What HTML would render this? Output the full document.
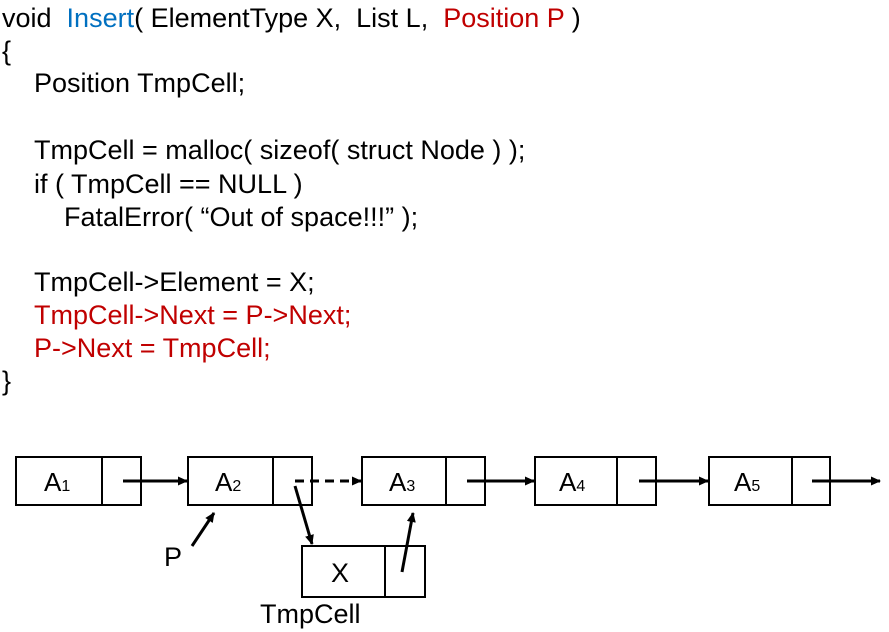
<!DOCTYPE html>
<html><head><style>
body{margin:0;width:889px;height:632px;background:#fff;position:relative;overflow:hidden;font-family:"Liberation Sans",Arial,sans-serif;}
.l{position:absolute;font-size:27px;line-height:26px;white-space:pre;color:#000;}
.r{color:#c00000}.b{color:#0070c0}
svg{position:absolute;left:0;top:0}
</style></head><body>
<div class="l" style="left:2px;top:5px">void  <span class="b">Insert</span>( ElementType X,  List L,  <span class="r">Position P</span> )</div>
<div class="l" style="left:2px;top:38px">{</div>
<div class="l" style="left:34px;top:70px">Position TmpCell;</div>
<div class="l" style="left:34px;top:137px">TmpCell = malloc( sizeof( struct Node ) );</div>
<div class="l" style="left:34px;top:171px">if ( TmpCell == NULL )</div>
<div class="l" style="left:64px;top:204px">FatalError( “Out of space!!!” );</div>
<div class="l" style="left:34px;top:269px">TmpCell-&gt;Element = X;</div>
<div class="l r" style="left:34px;top:302px">TmpCell-&gt;Next = P-&gt;Next;</div>
<div class="l r" style="left:34px;top:335px">P-&gt;Next = TmpCell;</div>
<div class="l" style="left:2px;top:368px">}</div>
<svg width="889" height="632">
<defs><marker id="a" markerWidth="10" markerHeight="9" refX="9" refY="4.5" orient="auto" markerUnits="userSpaceOnUse"><path d="M0,0L10,4.5L0,9z"/></marker></defs>
<g fill="none" stroke="#000" stroke-width="2">
<rect x="16" y="457" width="125" height="48"/><line x1="102" y1="457" x2="102" y2="505"/>
<rect x="188" y="457" width="124" height="48"/><line x1="273" y1="457" x2="273" y2="505"/>
<rect x="362" y="457" width="123" height="48"/><line x1="446" y1="457" x2="446" y2="505"/>
<rect x="535" y="457" width="121" height="48"/><line x1="617" y1="457" x2="617" y2="505"/>
<rect x="709" y="457" width="121" height="48"/><line x1="792" y1="457" x2="792" y2="505"/>
<rect x="302" y="546" width="123" height="51"/><line x1="385" y1="546" x2="385" y2="597"/>
</g>
<g stroke="#000" stroke-width="3" fill="none" marker-end="url(#a)">
<line x1="123" y1="481" x2="187" y2="481"/>
<line x1="295" y1="481" x2="361" y2="481" stroke-dasharray="9,6"/>
<line x1="467" y1="481" x2="534" y2="481"/>
<line x1="639" y1="481" x2="708" y2="481"/>
<line x1="812" y1="481" x2="880" y2="481"/>
<line x1="295" y1="486" x2="312" y2="544"/>
<line x1="402" y1="572" x2="413" y2="513"/>
<line x1="192" y1="546" x2="214" y2="513"/>
</g>
<g font-size="26" font-family="Liberation Sans,Arial,sans-serif" fill="#000">
<text x="44" y="491">A<tspan font-size="16">1</tspan></text>
<text x="215" y="491">A<tspan font-size="16">2</tspan></text>
<text x="389" y="491">A<tspan font-size="16">3</tspan></text>
<text x="559" y="491">A<tspan font-size="16">4</tspan></text>
<text x="734" y="491">A<tspan font-size="16">5</tspan></text>
<text x="331" y="582" font-size="27">X</text>
<text x="164" y="566" font-size="27">P</text>
<text x="260" y="623" font-size="27">TmpCell</text>
</g>
</svg>
</body></html>
